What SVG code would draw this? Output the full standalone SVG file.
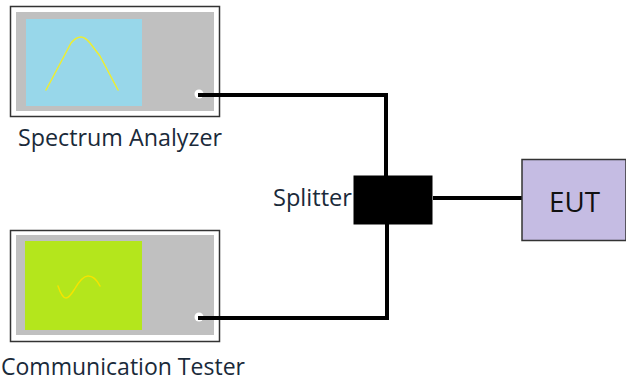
<svg xmlns="http://www.w3.org/2000/svg" width="626" height="381" viewBox="0 0 626 381">
<style>
text{font-family:"Open Sans","Noto Sans","Liberation Sans",sans-serif;fill:#1a2a3a;font-size:23px}
.frame{fill:#fff;stroke:#333;stroke-width:1.5}
.panel{fill:#c0c0c0}
.trace{fill:none;stroke-width:1.5;stroke-linecap:round;stroke-linejoin:round}
.port{fill:#fff}
.wire{fill:none;stroke:#000;stroke-width:4}
</style>
<rect width="626" height="381" fill="#fff"/>
<g id="spectrum-analyzer">
<rect class="frame" x="10.500" y="6.500" width="209" height="110"/>
<rect class="panel" x="16" y="12" width="198" height="99"/>
<rect x="26" y="19" width="116" height="87" fill="#98d7ea"/>
<path class="trace" stroke="#eeee30" d="M46 90L62 60L71 43Q76 37 81 37Q85 37 90 43L100 56L118 90"/>
<circle class="port" cx="199" cy="94" r="4.500"/>
<text x="18" y="146" textLength="204" lengthAdjust="spacingAndGlyphs">Spectrum Analyzer</text>
</g>
<g id="communication-tester">
<rect class="frame" x="10.500" y="230.500" width="209" height="111"/>
<rect class="panel" x="16" y="235" width="198" height="100"/>
<rect x="25" y="241" width="117" height="89" fill="#b4e61c"/>
<path class="trace" stroke="#f5e400" d="M58 286Q62 298 66 298Q69 298 74 290Q82 276 88 276Q95 276 100 286"/>
<circle class="port" cx="199" cy="317" r="4.500"/>
<text x="1" y="374.500" textLength="244" lengthAdjust="spacingAndGlyphs">Communication Tester</text>
</g>
<g id="connectors">
<path class="wire" d="M198 95H386V176"/>
<path class="wire" d="M198 318H387V224"/>
<path class="wire" d="M433 198H522"/>
</g>
<g id="splitter">
<text x="273" y="206" style="font-size:24px" textLength="79" lengthAdjust="spacingAndGlyphs">Splitter</text>
<rect x="353.500" y="175.500" width="79" height="49" fill="#000"/>
</g>
<g id="eut">
<rect x="522" y="159.500" width="104" height="81" fill="#c5bce3" stroke="#333" stroke-width="1.500"/>
<text x="549" y="212" style="font-size:28px;fill:#111" textLength="51" lengthAdjust="spacingAndGlyphs">EUT</text>
</g>
</svg>
